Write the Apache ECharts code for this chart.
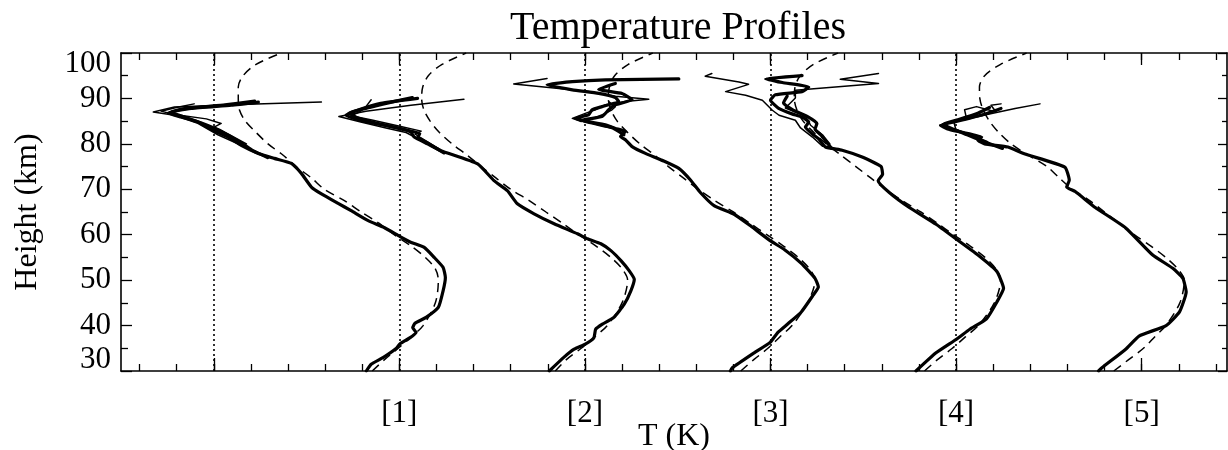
<!DOCTYPE html>
<html>
<head>
<meta charset="utf-8">
<title>Temperature Profiles</title>
<script src="https://cdn.jsdelivr.net/npm/echarts@6.0.0/dist/echarts.min.js"></script>
<style>
  html, body { margin: 0; padding: 0; background: #fff; }
  #chart { width: 1228px; height: 450px; }
</style>
</head>
<body>
<div id="chart"></div>
<script>
// each profile set is drawn 50 K right of the one before
var groupOffsets = [0, 50, 100, 150, 200];
// dotted reference lines (one per set)
var dottedRefs = [200, 250, 300, 350, 400];
// bottom axis labels
var xLabelValues = [250, 300, 350, 400, 450];
var xLabelNames = ['[1]', '[2]', '[3]', '[4]', '[5]'];

// dashed model profiles (heights in km, T in K)
var modelH = [30, 32.5, 35, 37.5, 40, 45, 50, 52.5, 55, 57.5, 60, 62.5, 65, 67.5, 70, 72.5, 75, 77.5, 80, 82.5, 85, 87.5, 90, 92.5, 95, 97.5, 100];
var modelT1 = [242.7, 246.0, 249.7, 253.2, 256.4, 259.7, 260.5, 259.7, 257.0, 253.2, 248.6, 244.6, 239.7, 235.2, 229.8, 226.3, 222.2, 218.7, 214.6, 211.4, 208.5, 206.9, 206.6, 206.6, 207.9, 211.4, 218.2];
var modelT2 = [242.0, 245.0, 249.0, 252.6, 256.0, 260.0, 261.5, 260.0, 257.0, 253.0, 248.3, 244.0, 239.5, 235.0, 230.0, 226.0, 222.0, 218.3, 214.2, 210.8, 208.3, 206.6, 206.0, 206.3, 207.8, 211.5, 218.0];
var modelT3 = [242.0, 245.5, 249.3, 252.5, 255.8, 260.0, 262.0, 260.5, 257.5, 253.5, 249.0, 244.5, 240.0, 235.0, 230.5, 226.5, 222.5, 218.8, 214.8, 211.5, 208.7, 207.0, 206.3, 206.6, 208.0, 211.7, 218.3];
var modelT4 = [241.5, 245.0, 249.0, 252.5, 256.0, 260.3, 262.0, 260.7, 257.8, 253.8, 249.3, 245.0, 240.5, 235.5, 231.0, 227.0, 223.0, 219.0, 215.0, 211.7, 208.8, 207.1, 206.4, 206.6, 208.0, 211.6, 218.2];
var modelT5 = [242.5, 246.5, 250.5, 253.5, 256.5, 260.3, 261.5, 259.7, 256.5, 252.5, 248.0, 244.0, 240.0, 236.0, 231.3, 227.8, 224.5, 219.5, 214.8, 211.5, 209.0, 207.3, 206.4, 206.3, 207.7, 212.0, 219.0];

// set 1
var g1MainH = [30, 31.5, 33, 35, 36, 37.3, 38.5, 39.5, 40.5, 41.8, 44, 47.7, 50.6, 52.8, 55, 57.2, 58.3, 59.6, 61.6, 63.1, 65.3, 66.9, 69, 70.5, 73.5, 75.7, 76.8, 77.9, 79.7, 81.5, 83, 84.8, 85.9, 86.8, 87.8, 88.5, 89.2];
var g1MainT = [241.1, 242.4, 245.7, 249.2, 250.2, 252.8, 254.5, 253.6, 254.2, 257.2, 260.5, 261.8, 262.4, 261.8, 259.4, 256.7, 253.2, 250.2, 245.9, 241.6, 237.0, 233.5, 229.0, 226.3, 223.6, 220.9, 216.3, 212.0, 207.4, 203.9, 199.8, 195.8, 191.2, 187.7, 193.9, 204.7, 212.0];
var g1BoldH = [77, 78.5, 80, 81.5, 83, 84.5, 85.8, 87.0, 87.8, 88.6, 89.4];
var g1BoldT = [214.5, 210.5, 207.8, 204.8, 201.5, 197.0, 192.5, 188.5, 192.5, 203.0, 211.0];
var g1ThinH = [78, 79.7, 82, 84.5, 86.3, 87.0, 88.1, 88.7, 89.2];
var g1ThinT = [211.5, 207.4, 201.1, 195.7, 189.4, 183.7, 189.4, 209.3, 229.0];
var g1Thin2H = [80, 82, 83.7, 84.5, 85.5, 86.5, 87.2, 88.0, 88.8];
var g1Thin2T = [208.8, 204.2, 200.1, 202.0, 198.0, 189.0, 185.8, 189.9, 194.7];

// set 2
var g2MainH = [30, 33, 34.8, 35.9, 37.3, 39.2, 40.3, 41.8, 44.7, 47.7, 50.2, 52.1, 54.3, 56.5, 58, 59.1, 60.2, 62.4, 64.6, 66.8, 69.7, 71.9, 75.6, 78.5, 80, 81.5, 82.6, 83.7, 84.8, 85.6, 86.3, 87.4, 88.9, 90];
var g2MainT = [240.4, 244.3, 247.1, 250.1, 252.4, 252.9, 254.7, 257.8, 260.6, 262.4, 263.3, 261.9, 259.7, 257.0, 254.3, 250.7, 248.0, 241.7, 236.3, 231.8, 229.1, 225.5, 221.1, 211.2, 207.6, 204.0, 203.1, 198.6, 191.4, 187.8, 185.6, 188.7, 195.0, 204.9];
var g2BoldH = [78, 80, 81.5, 82.3, 83.2, 84.5, 85.8, 86.8, 88.0, 89.3, 90.2];
var g2BoldT = [212.0, 208.0, 205.0, 205.5, 201.0, 194.0, 188.5, 186.5, 192.0, 198.5, 203.5];
var g2ThinH = [78, 79, 81, 82.5, 83.5, 84.8, 86, 87.2, 88.5, 89.8];
var g2ThinT = [212.5, 209.8, 205.3, 201.8, 196.4, 189.6, 183.7, 191.0, 203.1, 217.4];
var g2Thin2H = [79, 80, 81.5, 82.2, 82.8, 83.8, 85.2, 86.2, 87.0, 88.2, 89.7];
var g2Thin2T = [210.5, 208.5, 205.5, 204.2, 205.9, 200.4, 192.9, 187.0, 189.2, 191.0, 192.4];

// set 3
var g3MainH = [30, 30.7, 34, 36.3, 38.5, 40.4, 43, 46.7, 48.5, 50.4, 53.7, 56.7, 58.7, 61.9, 64.5, 66.4, 69.3, 72, 74.6, 76.4, 77.9, 79.4, 80.9, 81.6, 82.7, 83.4, 84.2, 84.9, 85.6, 86.4, 87.5, 88.2, 89.3, 90.2, 91.1, 91.9, 93.0, 93.7, 94.1, 94.3];
var g3MainT = [239.2, 239.7, 245.6, 249.9, 252.0, 254.7, 258.3, 261.5, 262.9, 262.0, 258.3, 253.8, 249.9, 244.7, 240.2, 234.8, 231.1, 228.5, 225.3, 220.8, 216.3, 212.7, 210.9, 209.6, 210.9, 208.2, 205.5, 201.0, 197.4, 201.0, 201.9, 204.6, 209.1, 208.2, 203.7, 196.6, 189.8, 196.6, 205.5, 225.3];
var g3BoldH = [82, 83.5, 85.2, 86.0, 87.5, 88.6, 89.7, 91.1, 92.0, 93.3];
var g3BoldT = [210.5, 207.5, 199.2, 204.6, 206.4, 208.2, 212.7, 210.0, 203.7, 208.2];
var g3ThinH = [84.9, 85.6, 86.7, 87.5, 88.6, 89.3, 89.8, 90.5, 91.5, 92.6, 93.2, 94.4];
var g3ThinT = [199.0, 196.6, 200.1, 202.8, 205.5, 210.9, 217.2, 208.2, 201.0, 187.6, 180.8, 189.8];
var g3Thin2H = [83.5, 84.9, 86.7, 87.5, 88.2, 89.3];
var g3Thin2T = [207.0, 200.1, 205.5, 207.3, 208.2, 206.4];

// set 4
var g4MainH = [30, 34, 37, 39.2, 41.5, 45.2, 48.2, 51.9, 55.2, 59, 62.3, 66, 69.3, 71.9, 73.3, 75.0, 77.1, 78.6, 79.3, 81.1, 81.9, 83.7, 84.8, 85.9, 86.6, 87.8, 89.6, 90.8, 91.5, 92.5, 93.5, 94.3, 95];
var g4MainT = [239.2, 244.6, 250.1, 253.7, 258.2, 261.0, 262.8, 261.0, 256.4, 250.1, 244.6, 237.4, 232.0, 229.0, 230.2, 229.8, 224.7, 219.3, 214.8, 213.0, 211.7, 209.4, 210.3, 208.5, 205.8, 202.2, 200.0, 201.3, 208.5, 210.3, 203.2, 198.7, 208.5];
var g4BoldH = [79, 80.5, 82, 83.2, 84.5, 86, 87.5, 89, 90.5];
var g4BoldT = [216.5, 215.0, 213.5, 212.0, 212.5, 210.0, 206.0, 203.5, 204.5];
var g4ThinH = [79.5, 81.5, 83.5, 85.2, 86.3, 87.4, 89.6, 90.7, 91.5, 93.1, 93.6, 94.9, 95.5];
var g4ThinT = [214.0, 211.3, 208.1, 206.7, 202.3, 200.5, 197.8, 193.3, 187.9, 194.1, 191.5, 182.4, 184.2];
var g4Thin2H = [80, 82, 84.1, 86.1, 87.9, 90.1, 91.8, 93.3, 94.2, 95.5];
var g4Thin2T = [216.0, 214.0, 210.8, 209.4, 204.0, 206.7, 206.7, 229.1, 218.8, 229.1];

// set 5
var g5MainH = [30, 30.7, 34.8, 37.7, 40, 43, 47.4, 50.4, 52.6, 55.6, 61.5, 66, 69.5, 70.5, 72, 74.9, 77.8, 79.3, 80, 80.8, 81.5, 82.6, 83.3, 84.1, 84.8, 86.3, 87.8];
var g5MainT = [238.4, 239.3, 245.7, 249.3, 256.6, 260.2, 262.0, 261.1, 258.4, 252.9, 245.7, 237.5, 232.1, 229.8, 230.5, 229.3, 218.4, 214.0, 207.7, 205.9, 206.9, 201.3, 197.7, 195.8, 199.4, 206.7, 212.1];
var g5BoldH = [79, 80.5, 82, 83.5, 84.3, 85.3, 86.8, 88.0];
var g5BoldT = [212.5, 207.5, 203.0, 198.5, 196.5, 200.5, 206.0, 209.0];
var g5ThinH = [80.5, 82, 83.3, 84.1, 85.2, 86.7, 87.8, 88.8];
var g5ThinT = [208.5, 204.0, 199.5, 195.6, 201.5, 209.6, 215.9, 222.6];
var g5Thin2H = [83, 84.8, 86, 87.5, 88.2, 87.0, 88.5, 88.8];
var g5Thin2T = [200.0, 199.4, 202.7, 202.3, 205.5, 210.8, 209.4, 212.1];

var models = [modelT1, modelT2, modelT3, modelT4, modelT5];
// [set, heights, temperatures, kind]
var profiles = [
  [0, g1MainH, g1MainT, 'thick'], [0, g1BoldH, g1BoldT, 'thick'], [0, g1ThinH, g1ThinT, 'thin'], [0, g1Thin2H, g1Thin2T, 'thin'],
  [1, g2MainH, g2MainT, 'thick'], [1, g2BoldH, g2BoldT, 'thick'], [1, g2ThinH, g2ThinT, 'thin'], [1, g2Thin2H, g2Thin2T, 'thin'],
  [2, g3MainH, g3MainT, 'thick'], [2, g3BoldH, g3BoldT, 'thick'], [2, g3ThinH, g3ThinT, 'thin'], [2, g3Thin2H, g3Thin2T, 'thin'],
  [3, g4MainH, g4MainT, 'thick'], [3, g4BoldH, g4BoldT, 'thick'], [3, g4ThinH, g4ThinT, 'thin'], [3, g4Thin2H, g4Thin2T, 'thin'],
  [4, g5MainH, g5MainT, 'thick'], [4, g5BoldH, g5BoldT, 'thick'], [4, g5ThinH, g5ThinT, 'thin'], [4, g5Thin2H, g5Thin2T, 'thin']
];

function toPairs(hs, ts, off) {
  var out = [];
  for (var i = 0; i < hs.length; i++) {
    out.push([ts[i] + off, hs[i]]);
  }
  return out;
}

var serif = "'Liberation Serif', 'DejaVu Serif', serif";
var X_MIN = 175, X_MAX = 473;

var minorX = [];
for (var v = 180; v <= 470; v += 10) minorX.push(v);
var majorX = [200, 250, 300, 350, 400, 450];

var series = [];
models.forEach(function (m, g) {
  var s = {
    type: 'line',
    data: toPairs(modelH, m, groupOffsets[g]),
    smooth: 0.3,
    showSymbol: false,
    silent: true,
    lineStyle: { color: '#000', width: 1.5, type: [9, 6] }
  };
  if (g === 0) {
    s.markLine = {
      silent: true,
      symbol: 'none',
      label: { show: false },
      lineStyle: { color: '#000', width: 1.6, type: [2, 3] },
      data: dottedRefs.map(function (x) { return { xAxis: x }; })
    };
  }
  series.push(s);
});
profiles.forEach(function (p) {
  var thick = p[3] === 'thick';
  series.push({
    type: 'line',
    data: toPairs(p[1], p[2], groupOffsets[p[0]]),
    smooth: thick ? 0.15 : 0,
    showSymbol: false,
    silent: true,
    lineStyle: { color: '#000', width: thick ? 3.2 : 1.5, join: 'round', cap: 'round' }
  });
});

function tickAxis(pos, vals, len, line) {
  return {
    type: 'value', position: pos, min: X_MIN, max: X_MAX,
    axisLine: { show: line, onZero: false, lineStyle: { color: '#000', width: 1.6 } },
    axisTick: { show: true, inside: true, length: len, customValues: vals, lineStyle: { color: '#000', width: 1.3 } },
    axisLabel: { show: false },
    splitLine: { show: false }
  };
}

var bottomAxis = tickAxis('bottom', minorX, 7, true);
bottomAxis.name = 'T (K)';
bottomAxis.nameLocation = 'middle';
bottomAxis.nameGap = 50;
bottomAxis.nameMoveOverlap = false;
bottomAxis.nameTextStyle = { fontFamily: serif, fontSize: 32, color: '#000' };
bottomAxis.axisLabel = {
  show: true, customValues: xLabelValues, margin: 27,
  fontFamily: serif, fontSize: 31, color: '#000',
  formatter: function (val) { return xLabelNames[xLabelValues.indexOf(val)] || ''; }
};

var chart = echarts.init(document.getElementById('chart'));
chart.setOption({
  animation: false,
  backgroundColor: '#fff',
  title: {
    text: 'Temperature Profiles',
    left: 505, top: 3,
    textStyle: { fontFamily: serif, fontSize: 40, fontWeight: 'normal', color: '#000' }
  },
  grid: { left: 121, right: 1, top: 53, bottom: 79, outerBoundsMode: 'none' },
  xAxis: [
    bottomAxis,
    tickAxis('bottom', majorX, 13, false),
    tickAxis('top', minorX, 7, true),
    tickAxis('top', majorX, 12, false)
  ],
  yAxis: [
    {
      type: 'value', position: 'left', min: 30, max: 100, interval: 10,
      name: 'Height (km)', nameLocation: 'middle', nameGap: 77, nameMoveOverlap: false,
      nameTextStyle: { fontFamily: serif, fontSize: 32, color: '#000' },
      axisLine: { show: true, onZero: false, lineStyle: { color: '#000', width: 1.6 } },
      axisTick: { inside: true, length: 11, lineStyle: { color: '#000', width: 1.3 } },
      minorTick: { show: true, splitNumber: 2, length: 7, lineStyle: { color: '#000', width: 1.3 } },
      axisLabel: {
        margin: 10, fontFamily: serif, fontSize: 31, lineHeight: 22, color: '#000',
        showMinLabel: true, showMaxLabel: true, hideOverlap: false,
        verticalAlignMinLabel: 'bottom', verticalAlignMaxLabel: 'top'
      },
      splitLine: { show: false }
    },
    {
      type: 'value', position: 'right', min: 30, max: 100, interval: 10,
      axisLine: { show: true, onZero: false, lineStyle: { color: '#000', width: 1.6 } },
      axisTick: { inside: true, length: 9, lineStyle: { color: '#000', width: 1.3 } },
      minorTick: { show: true, splitNumber: 2, length: 5, lineStyle: { color: '#000', width: 1.3 } },
      axisLabel: { show: false },
      splitLine: { show: false }
    }
  ],
  series: series
});
</script>
</body>
</html>
